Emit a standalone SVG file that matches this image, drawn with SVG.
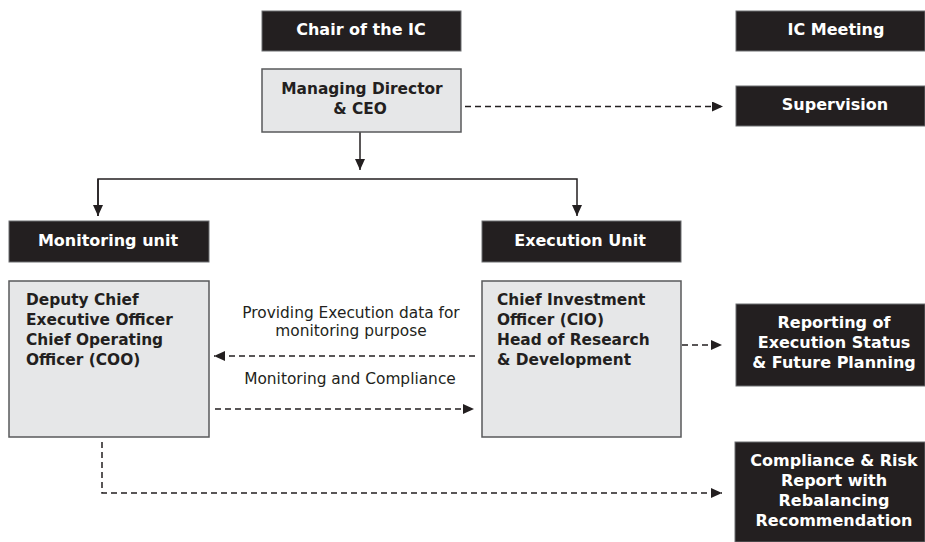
<svg xmlns="http://www.w3.org/2000/svg" width="925" height="542" viewBox="0 0 925 542">
<style>
.dark{fill:#231f20;stroke:#6d6e71;stroke-width:1}
.light{fill:#e6e7e8;stroke:#58595b;stroke-width:1.5}
.ht{font-family:"DejaVu Sans",Verdana,sans-serif;font-weight:bold;font-size:16px;fill:#fff;text-anchor:middle}
.bt{font-family:"DejaVu Sans",Verdana,sans-serif;font-weight:bold;font-size:15.4px;fill:#231f20}
.lt{font-family:"DejaVu Sans",Verdana,sans-serif;font-size:15.4px;fill:#231f20;text-anchor:middle}
.solid{fill:none;stroke:#231f20;stroke-width:1.5}
.dash{fill:none;stroke:#231f20;stroke-width:1.5;stroke-dasharray:6 4}
</style>
<defs>
<marker id="ah" markerUnits="userSpaceOnUse" markerWidth="12" markerHeight="10" refX="11" refY="5" orient="auto">
<path d="M0,0 L11,5 L0,10 Z" fill="#231f20"/>
</marker>
</defs>
<g id="connectors">
<path class="solid" d="M360,132 V170" marker-end="url(#ah)"/>
<path class="solid" d="M98,216 V179 H577 V216" marker-end="url(#ah)"/>
<path class="solid" d="M98,179 V216" marker-end="url(#ah)"/>
<path class="dash" d="M465,106.5 H723" marker-end="url(#ah)"/>
<path class="dash" d="M475,356 H214" marker-end="url(#ah)"/>
<path class="dash" d="M215,409 H474" marker-end="url(#ah)"/>
<path class="dash" d="M682,345 H722" marker-end="url(#ah)"/>
<path class="dash" d="M102,442 V493 H722" marker-end="url(#ah)"/>
</g>
<g id="chair">
<rect class="dark" x="262" y="11" width="199" height="40"/>
<text class="ht" x="361" y="35">Chair of the IC</text>
</g>
<g id="ic-meeting">
<rect class="dark" x="736" y="11" width="189" height="40"/>
<text class="ht" x="836" y="35">IC Meeting</text>
</g>
<g id="md-ceo">
<rect class="light" x="262" y="69" width="199" height="63"/>
<text class="bt" text-anchor="middle" x="362" y="94">Managing Director</text>
<text class="bt" text-anchor="middle" x="360" y="114">&amp; CEO</text>
</g>
<g id="supervision">
<rect class="dark" x="736" y="86" width="189" height="40"/>
<text class="ht" x="835" y="110">Supervision</text>
</g>
<g id="monitoring-unit">
<rect class="dark" x="9" y="221" width="200" height="41"/>
<text class="ht" x="108" y="246">Monitoring unit</text>
</g>
<g id="execution-unit">
<rect class="dark" x="482" y="221" width="199" height="41"/>
<text class="ht" x="580" y="246">Execution Unit</text>
</g>
<g id="deputy">
<rect class="light" x="9" y="281" width="200" height="156"/>
<text class="bt" x="26" y="305">Deputy Chief</text>
<text class="bt" x="26" y="325">Executive Officer</text>
<text class="bt" x="26" y="345">Chief Operating</text>
<text class="bt" x="26" y="365">Officer (COO)</text>
</g>
<g id="cio">
<rect class="light" x="482" y="281" width="199" height="156"/>
<text class="bt" x="497" y="305">Chief Investment</text>
<text class="bt" x="497" y="325">Officer (CIO)</text>
<text class="bt" x="497" y="345">Head of Research</text>
<text class="bt" x="497" y="365">&amp; Development</text>
</g>
<g id="labels">
<text class="lt" x="351" y="318">Providing Execution data for</text>
<text class="lt" x="351" y="336">monitoring purpose</text>
<text class="lt" x="350" y="384">Monitoring and Compliance</text>
</g>
<g id="reporting">
<rect class="dark" x="736" y="304" width="189" height="82"/>
<text class="ht" x="834" y="328">Reporting of</text>
<text class="ht" x="834" y="348">Execution Status</text>
<text class="ht" x="834" y="368">&amp; Future Planning</text>
</g>
<g id="compliance">
<rect class="dark" x="735" y="442" width="190" height="100"/>
<text class="ht" x="834" y="466">Compliance &amp; Risk</text>
<text class="ht" x="834" y="486">Report with</text>
<text class="ht" x="834" y="506">Rebalancing</text>
<text class="ht" x="834" y="526">Recommendation</text>
</g>
</svg>
